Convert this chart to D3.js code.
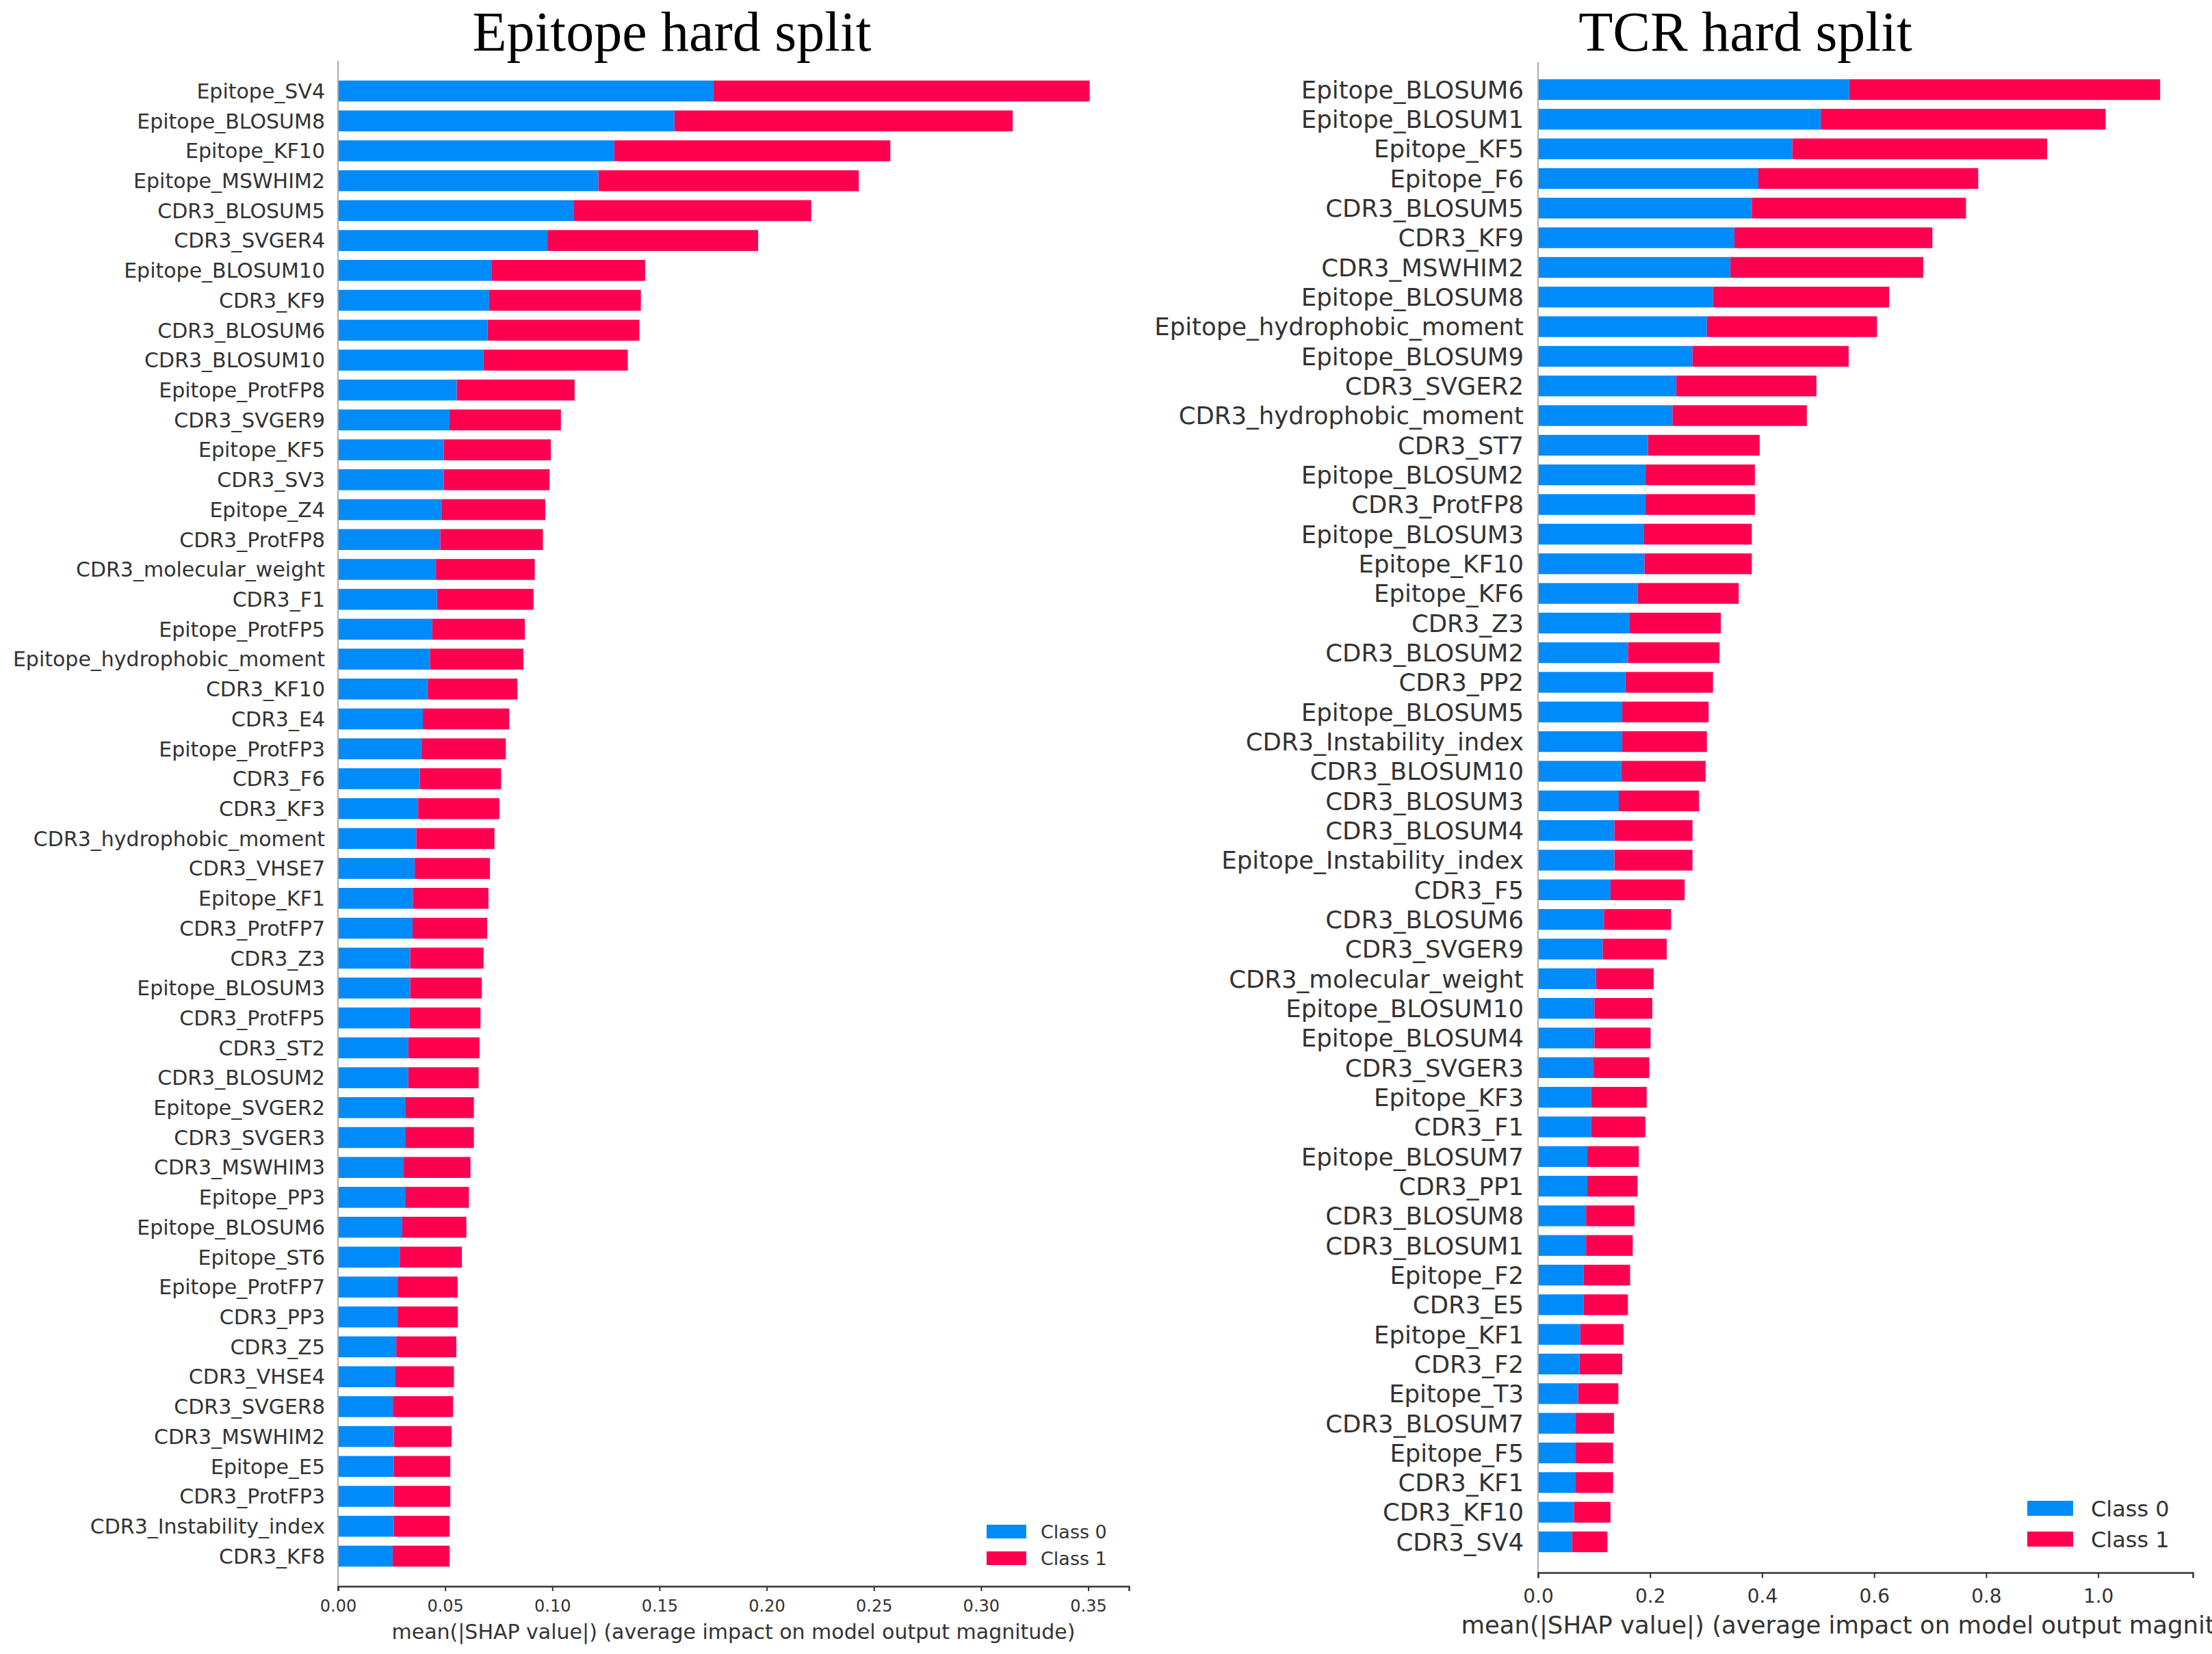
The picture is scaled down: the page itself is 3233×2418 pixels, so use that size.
<!DOCTYPE html>
<html>
<head>
<meta charset="utf-8">
<script src="https://cdn.jsdelivr.net/npm/d3@7"></script>
<style>
  html, body { margin: 0; padding: 0; background: #fff; overflow: hidden; }
  svg { display: block; }
</style>
</head>
<body>
<div id="chart"></div>
<script>
// ---- data : Epitope hard split ----
const epiFeatures = [
  "Epitope_SV4", "Epitope_BLOSUM8", "Epitope_KF10", "Epitope_MSWHIM2", "CDR3_BLOSUM5",
  "CDR3_SVGER4", "Epitope_BLOSUM10", "CDR3_KF9", "CDR3_BLOSUM6", "CDR3_BLOSUM10",
  "Epitope_ProtFP8", "CDR3_SVGER9", "Epitope_KF5", "CDR3_SV3", "Epitope_Z4",
  "CDR3_ProtFP8", "CDR3_molecular_weight", "CDR3_F1", "Epitope_ProtFP5", "Epitope_hydrophobic_moment",
  "CDR3_KF10", "CDR3_E4", "Epitope_ProtFP3", "CDR3_F6", "CDR3_KF3",
  "CDR3_hydrophobic_moment", "CDR3_VHSE7", "Epitope_KF1", "CDR3_ProtFP7", "CDR3_Z3",
  "Epitope_BLOSUM3", "CDR3_ProtFP5", "CDR3_ST2", "CDR3_BLOSUM2", "Epitope_SVGER2",
  "CDR3_SVGER3", "CDR3_MSWHIM3", "Epitope_PP3", "Epitope_BLOSUM6", "Epitope_ST6",
  "Epitope_ProtFP7", "CDR3_PP3", "CDR3_Z5", "CDR3_VHSE4", "CDR3_SVGER8",
  "CDR3_MSWHIM2", "Epitope_E5", "CDR3_ProtFP3", "CDR3_Instability_index", "CDR3_KF8"
]
const epiClass0 = [
  0.1752, 0.1570, 0.1289, 0.1215, 0.1101, 0.0977, 0.0718, 0.0705, 0.0698, 0.0678,
  0.0554, 0.0520, 0.0493, 0.0493, 0.0483, 0.0477, 0.0457, 0.0462, 0.0440, 0.0429,
  0.0419, 0.0396, 0.0390, 0.0382, 0.0374, 0.0365, 0.0358, 0.0349, 0.0348, 0.0337,
  0.0337, 0.0333, 0.0328, 0.0328, 0.0316, 0.0316, 0.0306, 0.0316, 0.0300, 0.0288,
  0.0278, 0.0278, 0.0272, 0.0268, 0.0256, 0.0261, 0.0261, 0.0261, 0.0261, 0.0255
]
const epiClass1 = [
  0.1755, 0.1578, 0.1288, 0.1215, 0.1107, 0.0983, 0.0715, 0.0708, 0.0708, 0.0674,
  0.0550, 0.0520, 0.0500, 0.0494, 0.0484, 0.0479, 0.0461, 0.0450, 0.0432, 0.0436,
  0.0418, 0.0403, 0.0393, 0.0379, 0.0379, 0.0365, 0.0351, 0.0353, 0.0348, 0.0342,
  0.0334, 0.0332, 0.0332, 0.0328, 0.0318, 0.0318, 0.0312, 0.0295, 0.0299, 0.0290,
  0.0280, 0.0281, 0.0280, 0.0273, 0.0281, 0.0269, 0.0263, 0.0263, 0.0260, 0.0266
]
const epiTicks = [0, 0.05, 0.10, 0.15, 0.20, 0.25, 0.30, 0.35]

// ---- data : TCR hard split ----
const tcrFeatures = [
  "Epitope_BLOSUM6", "Epitope_BLOSUM1", "Epitope_KF5", "Epitope_F6", "CDR3_BLOSUM5",
  "CDR3_KF9", "CDR3_MSWHIM2", "Epitope_BLOSUM8", "Epitope_hydrophobic_moment", "Epitope_BLOSUM9",
  "CDR3_SVGER2", "CDR3_hydrophobic_moment", "CDR3_ST7", "Epitope_BLOSUM2", "CDR3_ProtFP8",
  "Epitope_BLOSUM3", "Epitope_KF10", "Epitope_KF6", "CDR3_Z3", "CDR3_BLOSUM2",
  "CDR3_PP2", "Epitope_BLOSUM5", "CDR3_Instability_index", "CDR3_BLOSUM10", "CDR3_BLOSUM3",
  "CDR3_BLOSUM4", "Epitope_Instability_index", "CDR3_F5", "CDR3_BLOSUM6", "CDR3_SVGER9",
  "CDR3_molecular_weight", "Epitope_BLOSUM10", "Epitope_BLOSUM4", "CDR3_SVGER3", "Epitope_KF3",
  "CDR3_F1", "Epitope_BLOSUM7", "CDR3_PP1", "CDR3_BLOSUM8", "CDR3_BLOSUM1",
  "Epitope_F2", "CDR3_E5", "Epitope_KF1", "CDR3_F2", "Epitope_T3",
  "CDR3_BLOSUM7", "Epitope_F5", "CDR3_KF1", "CDR3_KF10", "CDR3_SV4"
]
const tcrClass0 = [
  0.5553, 0.5047, 0.4540, 0.3933, 0.3816, 0.3505, 0.3435, 0.3123, 0.3014, 0.2757,
  0.2469, 0.2399, 0.1963, 0.1916, 0.1916, 0.1893, 0.1900, 0.1776, 0.1636, 0.1604,
  0.1558, 0.1503, 0.1503, 0.1488, 0.1441, 0.1363, 0.1363, 0.1293, 0.1176, 0.1153,
  0.1036, 0.1005, 0.1005, 0.0981, 0.0950, 0.0950, 0.0880, 0.0880, 0.0857, 0.0857,
  0.0810, 0.0810, 0.0755, 0.0740, 0.0717, 0.0662, 0.0662, 0.0662, 0.0639, 0.0607
]
const tcrClass1 = [
  0.5553, 0.5085, 0.4549, 0.3925, 0.3824, 0.3535, 0.3442, 0.3146, 0.3037, 0.2788,
  0.2500, 0.2399, 0.1993, 0.1955, 0.1955, 0.1923, 0.1916, 0.1807, 0.1627, 0.1636,
  0.1565, 0.1542, 0.1511, 0.1503, 0.1433, 0.1394, 0.1394, 0.1324, 0.1199, 0.1145,
  0.1028, 0.1035, 0.1004, 0.1005, 0.0989, 0.0966, 0.0919, 0.0896, 0.0864, 0.0833,
  0.0833, 0.0794, 0.0771, 0.0763, 0.0716, 0.0693, 0.0678, 0.0678, 0.0654, 0.0631
]
const tcrTicks = [0, 0.2, 0.4, 0.6, 0.8, 1.0]

const classNames = ["Class 0", "Class 1"]
const classColors = ["#008bfb", "#ff0051"]
const xLabel = "mean(|SHAP value|) (average impact on model output magnitude)"

const W = 3233, H = 2418
const svg = d3.select("#chart").append("svg")
  .attr("width", W)
  .attr("height", H)

const drawPanel = (cfg) => {
  const g = svg.append("g")

  let x = d3.scaleLinear()
    .domain([0, cfg.xMax])
    .range([cfg.x0, cfg.x1])

  let y = d3.scaleBand()
    .domain(cfg.features)
    .range([cfg.yTop, cfg.yBottom])
    .paddingInner(0.3)
    .paddingOuter(0.15)

  // titre
  g.append("text")
    .attr("x", cfg.titleX)
    .attr("y", cfg.titleY)
    .attr("text-anchor", "middle")
    .style("font-family", "'Liberation Serif', 'Times New Roman', serif")
    .style("font-size", cfg.titleSize + "px")
    .style("fill", "#000")
    .text(cfg.title)

  // barres empilées
  const rows = cfg.features.map((f, i) => ({ f: f, c0: cfg.c0[i], c1: cfg.c1[i] }))
  const bars = g.append("g")
  bars.selectAll(".b0")
    .data(rows)
    .enter()
    .append("rect")
    .attr("x", x(0))
    .attr("y", d => y(d.f))
    .attr("width", d => x(d.c0) - x(0))
    .attr("height", y.bandwidth())
    .style("fill", classColors[0])
  bars.selectAll(".b1")
    .data(rows)
    .enter()
    .append("rect")
    .attr("x", d => x(d.c0))
    .attr("y", d => y(d.f))
    .attr("width", d => x(d.c0 + d.c1) - x(d.c0))
    .attr("height", y.bandwidth())
    .style("fill", classColors[1])

  // labels des features
  g.append("g")
    .selectAll("text")
    .data(cfg.features)
    .enter()
    .append("text")
    .attr("x", cfg.x0 - cfg.labelGap)
    .attr("y", d => y(d) + y.bandwidth() / 2)
    .attr("dy", "0.36em")
    .attr("text-anchor", "end")
    .style("font-family", "'DejaVu Sans', sans-serif")
    .style("font-size", cfg.labelSize + "px")
    .style("fill", "#333333")
    .text(d => d)

  // ligne verticale à zéro
  g.append("line")
    .attr("x1", x(0)).attr("x2", x(0))
    .attr("y1", cfg.lineTop).attr("y2", cfg.axisY)
    .style("stroke", "#aaaaaa")
    .style("stroke-width", 2)

  // axe x
  const ax = g.append("g")
    .attr("transform", "translate(0," + cfg.axisY + ")")
    .call(d3.axisBottom(x)
      .tickValues(cfg.ticks)
      .tickFormat(d3.format(cfg.tickFmt))
      .tickSizeOuter(0)
      .tickSize(cfg.tickLen)
      .tickPadding(cfg.tickPad))
  ax.select(".domain").style("stroke", "#333333").style("stroke-width", 2.5)
  ax.selectAll(".tick line").style("stroke", "#333333").style("stroke-width", 2)
  ax.selectAll(".tick text")
    .style("font-family", "'DejaVu Sans', sans-serif")
    .style("font-size", cfg.tickSize + "px")
    .style("fill", "#333333")

  g.append("text")
    .attr("x", (cfg.x0 + cfg.x1) / 2)
    .attr("y", cfg.xLabelY)
    .attr("dy", "0.36em")
    .attr("text-anchor", "middle")
    .style("font-family", "'DejaVu Sans', sans-serif")
    .style("font-size", cfg.labelSize + "px")
    .style("fill", "#333333")
    .text(xLabel)

  // légende
  const leg = g.append("g")
  classNames.forEach((c, i) => {
    leg.append("rect")
      .attr("x", cfg.legX)
      .attr("y", cfg.legY[i] - cfg.legH / 2)
      .attr("width", cfg.legW)
      .attr("height", cfg.legH)
      .style("fill", classColors[i])
    leg.append("text")
      .attr("x", cfg.legX + cfg.legW + cfg.legGap)
      .attr("y", cfg.legY[i])
      .attr("dy", "0.36em")
      .style("font-family", "'DejaVu Sans', sans-serif")
      .style("font-size", cfg.legSize + "px")
      .style("fill", "#333333")
      .text(c)
  })
}

drawPanel({
  title: "Epitope hard split", titleX: 982, titleY: 74, titleSize: 82,
  features: epiFeatures, c0: epiClass0, c1: epiClass1,
  ticks: epiTicks, tickFmt: ".2f",
  xMax: 0.369, x0: 494, x1: 1650,
  yTop: 111.2, yBottom: 2296.8, lineTop: 89, axisY: 2319,
  labelGap: 19, labelSize: 30, tickSize: 24, tickLen: 7, tickPad: 13,
  xLabelY: 2385,
  legX: 1442, legW: 58, legH: 20, legGap: 21, legY: [2239, 2278], legSize: 27
})

drawPanel({
  title: "TCR hard split", titleX: 2551, titleY: 74, titleSize: 82,
  features: tcrFeatures, c0: tcrClass0, c1: tcrClass1,
  ticks: tcrTicks, tickFmt: ".1f",
  xMax: 1.169, x0: 2248, x1: 3205,
  yTop: 109.3, yBottom: 2275.7, lineTop: 91, axisY: 2299,
  labelGap: 21, labelSize: 35.5, tickSize: 28, tickLen: 8, tickPad: 16,
  xLabelY: 2375,
  legX: 2963, legW: 67, legH: 22, legGap: 26, legY: [2205, 2250], legSize: 32
})
</script>
</body>
</html>
